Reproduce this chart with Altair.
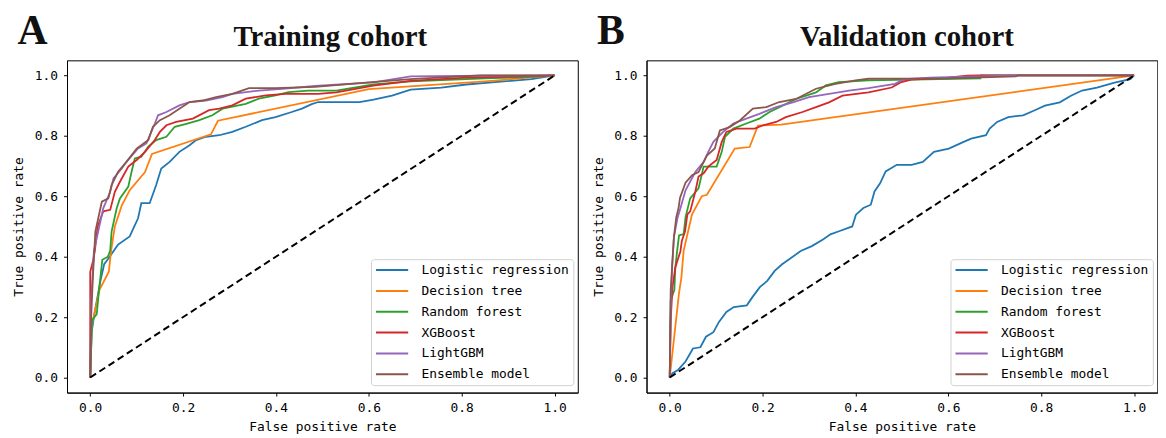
import altair as alt
import pandas as pd

MODELS = ["Logistic regression", "Decision tree", "Random forest", "XGBoost", "LightGBM", "Ensemble model"]
COLORS = ["#1f77b4", "#ff7f0e", "#2ca02c", "#d62728", "#9467bd", "#8c564b"]
TICKS = [0.0, 0.2, 0.4, 0.6, 0.8, 1.0]
DIAG = [0.0, 1.0]

# ---- Training cohort (fpr, tpr) ----
LR_A = [(0, 0), (0.003, 0.15), (0.01, 0.22), (0.022, 0.32), (0.03, 0.375), (0.042, 0.40), (0.05, 0.418),
        (0.06, 0.44), (0.085, 0.467), (0.103, 0.527), (0.11, 0.577), (0.128, 0.577), (0.142, 0.637),
        (0.153, 0.692), (0.171, 0.714), (0.192, 0.747), (0.214, 0.769), (0.228, 0.786), (0.249, 0.797),
        (0.278, 0.802), (0.306, 0.813), (0.335, 0.83), (0.37, 0.852), (0.399, 0.862), (0.434, 0.879),
        (0.456, 0.89), (0.477, 0.905), (0.491, 0.912), (0.58, 0.912), (0.61, 0.92), (0.65, 0.933),
        (0.69, 0.953), (0.756, 0.96), (0.81, 0.97), (0.89, 0.98), (0.95, 0.988), (1.0, 1.0)]
DT_A = [(0, 0), (0.003, 0.17), (0.02, 0.29), (0.04, 0.35), (0.045, 0.42), (0.053, 0.5), (0.068, 0.57),
        (0.085, 0.62), (0.118, 0.68), (0.133, 0.74), (0.26, 0.805), (0.275, 0.85), (0.6, 0.955),
        (0.85, 0.98), (1.0, 1.0)]
RF_A = [(0, 0), (0.004, 0.19), (0.014, 0.21), (0.019, 0.29), (0.026, 0.39), (0.038, 0.40), (0.043, 0.42),
        (0.046, 0.483), (0.057, 0.56), (0.064, 0.593), (0.082, 0.632), (0.089, 0.681), (0.096, 0.725),
        (0.11, 0.731), (0.125, 0.764), (0.142, 0.786), (0.164, 0.797), (0.182, 0.83), (0.207, 0.84),
        (0.235, 0.852), (0.263, 0.868), (0.285, 0.89), (0.335, 0.906), (0.363, 0.923), (0.399, 0.934),
        (0.427, 0.945), (0.47, 0.95), (0.53, 0.95), (0.61, 0.97), (0.69, 0.98), (0.85, 0.99),
        (0.95, 0.995), (1.0, 1.0)]
XGB_A = [(0, 0), (0.0, 0.35), (0.006, 0.386), (0.01, 0.42), (0.016, 0.5), (0.028, 0.55), (0.043, 0.555),
         (0.053, 0.615), (0.064, 0.648), (0.082, 0.698), (0.1, 0.72), (0.118, 0.747), (0.139, 0.786),
         (0.15, 0.813), (0.164, 0.835), (0.185, 0.846), (0.221, 0.857), (0.256, 0.885), (0.278, 0.89),
         (0.306, 0.901), (0.335, 0.923), (0.378, 0.934), (0.42, 0.939), (0.491, 0.939), (0.53, 0.944),
         (0.61, 0.966), (0.69, 0.982), (0.81, 0.993), (1.0, 1.0)]
LGBM_A = [(0, 0), (0.002, 0.255), (0.008, 0.42), (0.014, 0.461), (0.028, 0.56), (0.043, 0.615),
          (0.05, 0.659), (0.068, 0.692), (0.078, 0.714), (0.103, 0.758), (0.121, 0.775), (0.139, 0.84),
          (0.146, 0.868), (0.164, 0.879), (0.192, 0.901), (0.214, 0.912), (0.249, 0.917), (0.285, 0.928),
          (0.306, 0.939), (0.363, 0.95), (0.42, 0.956), (0.484, 0.965), (0.61, 0.977), (0.69, 0.997),
          (0.85, 0.999), (1.0, 1.0)]
ENS_A = [(0, 0), (0.002, 0.2), (0.006, 0.34), (0.011, 0.483), (0.025, 0.582), (0.039, 0.593),
         (0.046, 0.637), (0.06, 0.681), (0.078, 0.714), (0.1, 0.758), (0.125, 0.786), (0.135, 0.83),
         (0.15, 0.852), (0.171, 0.868), (0.192, 0.89), (0.214, 0.912), (0.242, 0.917), (0.271, 0.928),
         (0.306, 0.939), (0.342, 0.958), (0.399, 0.958), (0.484, 0.962), (0.6, 0.977), (0.69, 0.988),
         (0.84, 1.0), (1.0, 1.0)]

# ---- Validation cohort (fpr, tpr) ----
LR_B = [(0, 0), (0.006, 0.014), (0.018, 0.025), (0.034, 0.053), (0.05, 0.096), (0.066, 0.10),
        (0.078, 0.135), (0.094, 0.15), (0.106, 0.184), (0.122, 0.217), (0.138, 0.233), (0.166, 0.239),
        (0.178, 0.266), (0.194, 0.299), (0.21, 0.32), (0.226, 0.353), (0.242, 0.375), (0.258, 0.392),
        (0.282, 0.419), (0.306, 0.435), (0.33, 0.457), (0.346, 0.474), (0.366, 0.485), (0.393, 0.50),
        (0.401, 0.539), (0.417, 0.561), (0.433, 0.572), (0.441, 0.616), (0.453, 0.643), (0.465, 0.682),
        (0.489, 0.704), (0.521, 0.704), (0.545, 0.714), (0.569, 0.747), (0.601, 0.758), (0.633, 0.78),
        (0.649, 0.791), (0.681, 0.802), (0.689, 0.824), (0.705, 0.846), (0.729, 0.862), (0.761, 0.868),
        (0.785, 0.884), (0.808, 0.9), (0.84, 0.911), (0.864, 0.933), (0.888, 0.95), (0.92, 0.96),
        (0.96, 0.977), (0.992, 0.988), (1.0, 1.0)]
DT_B = [(0, 0), (0.02, 0.28), (0.025, 0.33), (0.03, 0.42), (0.048, 0.54), (0.069, 0.60), (0.08, 0.605),
        (0.14, 0.758), (0.172, 0.763), (0.19, 0.834), (0.24, 0.837), (1.0, 1.0)]
RF_B = [(0, 0), (0.002, 0.255), (0.01, 0.29), (0.012, 0.364), (0.016, 0.42), (0.02, 0.47), (0.03, 0.475),
        (0.034, 0.53), (0.044, 0.593), (0.062, 0.626), (0.073, 0.698), (0.101, 0.698), (0.112, 0.747),
        (0.119, 0.797), (0.137, 0.824), (0.165, 0.841), (0.193, 0.857), (0.215, 0.879), (0.243, 0.9),
        (0.272, 0.922), (0.315, 0.944), (0.336, 0.967), (0.364, 0.978), (0.428, 0.984), (0.521, 0.986),
        (0.669, 0.99), (0.67, 1.0), (1.0, 1.0)]
XGB_B = [(0, 0), (0.002, 0.19), (0.006, 0.3), (0.012, 0.364), (0.023, 0.418), (0.026, 0.452),
         (0.033, 0.484), (0.038, 0.54), (0.044, 0.55), (0.055, 0.615), (0.062, 0.665), (0.073, 0.676),
         (0.083, 0.698), (0.101, 0.72), (0.112, 0.78), (0.122, 0.813), (0.144, 0.824), (0.183, 0.824),
         (0.201, 0.835), (0.229, 0.846), (0.25, 0.862), (0.286, 0.879), (0.315, 0.895), (0.343, 0.911),
         (0.372, 0.933), (0.428, 0.944), (0.478, 0.96), (0.497, 0.977), (0.52, 0.986), (0.6, 0.993),
         (0.64, 0.999), (0.665, 1.0), (1.0, 1.0)]
LGBM_B = [(0, 0), (0.002, 0.2), (0.005, 0.364), (0.009, 0.465), (0.017, 0.53), (0.023, 0.56),
          (0.034, 0.62), (0.055, 0.68), (0.073, 0.714), (0.083, 0.747), (0.094, 0.78), (0.115, 0.813),
          (0.137, 0.841), (0.165, 0.857), (0.193, 0.873), (0.229, 0.895), (0.265, 0.911), (0.3, 0.928),
          (0.343, 0.939), (0.386, 0.95), (0.428, 0.958), (0.485, 0.972), (0.505, 0.988), (0.56, 0.993),
          (0.745, 1.0), (1.0, 1.0)]
ENS_B = [(0, 0), (0.002, 0.288), (0.009, 0.465), (0.014, 0.53), (0.019, 0.561), (0.022, 0.594),
         (0.034, 0.645), (0.048, 0.67), (0.062, 0.68), (0.08, 0.735), (0.097, 0.758), (0.108, 0.818),
         (0.129, 0.829), (0.151, 0.851), (0.179, 0.89), (0.208, 0.895), (0.236, 0.912), (0.272, 0.922),
         (0.315, 0.956), (0.357, 0.972), (0.4, 0.984), (0.428, 0.989), (0.6, 0.99), (0.745, 0.997),
         (0.75, 1.0), (1.0, 1.0)]

MONO = "DejaVu Sans Mono"
SERIF = "Liberation Serif"
W, H = 515, 335


def panel(curves, title, letter, dx):
    rows = []
    for k, (m, pts) in enumerate(zip(MODELS, curves)):
        for i, (x, y) in enumerate(pts):
            rows.append({"model": m, "k": k, "idx": i, "fpr": x, "tpr": y})
    df = pd.DataFrame(rows)
    xs = alt.Scale(domain=[-0.05, 1.05], nice=False, zero=False)
    ys = alt.Scale(domain=[-0.05, 1.05], nice=False, zero=False)
    xax = alt.Axis(values=TICKS, format=".1f", title="False positive rate", titlePadding=6)
    yax = alt.Axis(values=TICKS, format=".1f", title="True positive rate", titlePadding=8.5)
    lines = alt.Chart(df).mark_line(strokeWidth=1.8).encode(
        x=alt.X("fpr:Q", scale=xs, axis=xax),
        y=alt.Y("tpr:Q", scale=ys, axis=yax),
        color=alt.Color(
            "model:N",
            sort=MODELS,
            scale=alt.Scale(domain=MODELS, range=COLORS),
            title=None,
            legend=alt.Legend(
                orient="none", legendX=306.5, legendY=200.5, labelFont=MONO, labelFontSize=13,
                labelColor="black", symbolType="M-2.5,0H2.5", symbolSize=169,
                symbolStrokeWidth=2, symbolOffset=10.25, labelOffset=22.25, rowPadding=6,
                padding=3.5, strokeColor="#d0d0d0", cornerRadius=3,
                fillColor="rgba(255,255,255,0.85)",
            ),
        ),
        order="idx:Q",
    )
    diag = alt.Chart(pd.DataFrame({"d": DIAG})).mark_line(
        color="black", strokeDash=[7, 4], strokeWidth=2
    ).encode(x=alt.X("d:Q", scale=xs), y=alt.Y("d:Q", scale=ys))
    lab = alt.Chart(pd.DataFrame({"t": [letter]})).mark_text(
        font=SERIF, fontWeight="bold", fontSize=42, align="left", baseline="alphabetic", color="#111"
    ).encode(text="t:N", x=alt.value(-50), y=alt.value(-16))
    ttl = alt.Chart(pd.DataFrame({"t": [title]})).mark_text(
        font=SERIF, fontWeight="bold", fontSize=29, align="center", baseline="alphabetic", color="#111"
    ).encode(text="t:N", x=alt.value(W / 2 + dx), y=alt.value(-14))
    return alt.layer(lines, diag, lab, ttl).properties(width=W, height=H)


A = panel([LR_A, DT_A, RF_A, XGB_A, LGBM_A, ENS_A], "Training cohort", "A", 8)
B = panel([LR_B, DT_B, RF_B, XGB_B, LGBM_B, ENS_B], "Validation cohort", "B", 5)

chart = alt.hconcat(A, B, spacing=13.3).resolve_legend(color="independent").resolve_scale(color="independent").configure_view(
    stroke="black", strokeWidth=1
).configure_axis(
    grid=False, domainColor="black", tickColor="black", tickSize=3.5, labelFont=MONO, labelFontSize=13,
    labelColor="black", titleFont=MONO, titleFontSize=13, titleFontWeight="normal", titleColor="black",
    labelPadding=6,
).properties(padding={"left": 4.5, "top": 0, "right": 0, "bottom": 0})

chart.save("out.html", embed_options={"renderer": "svg", "actions": False})
